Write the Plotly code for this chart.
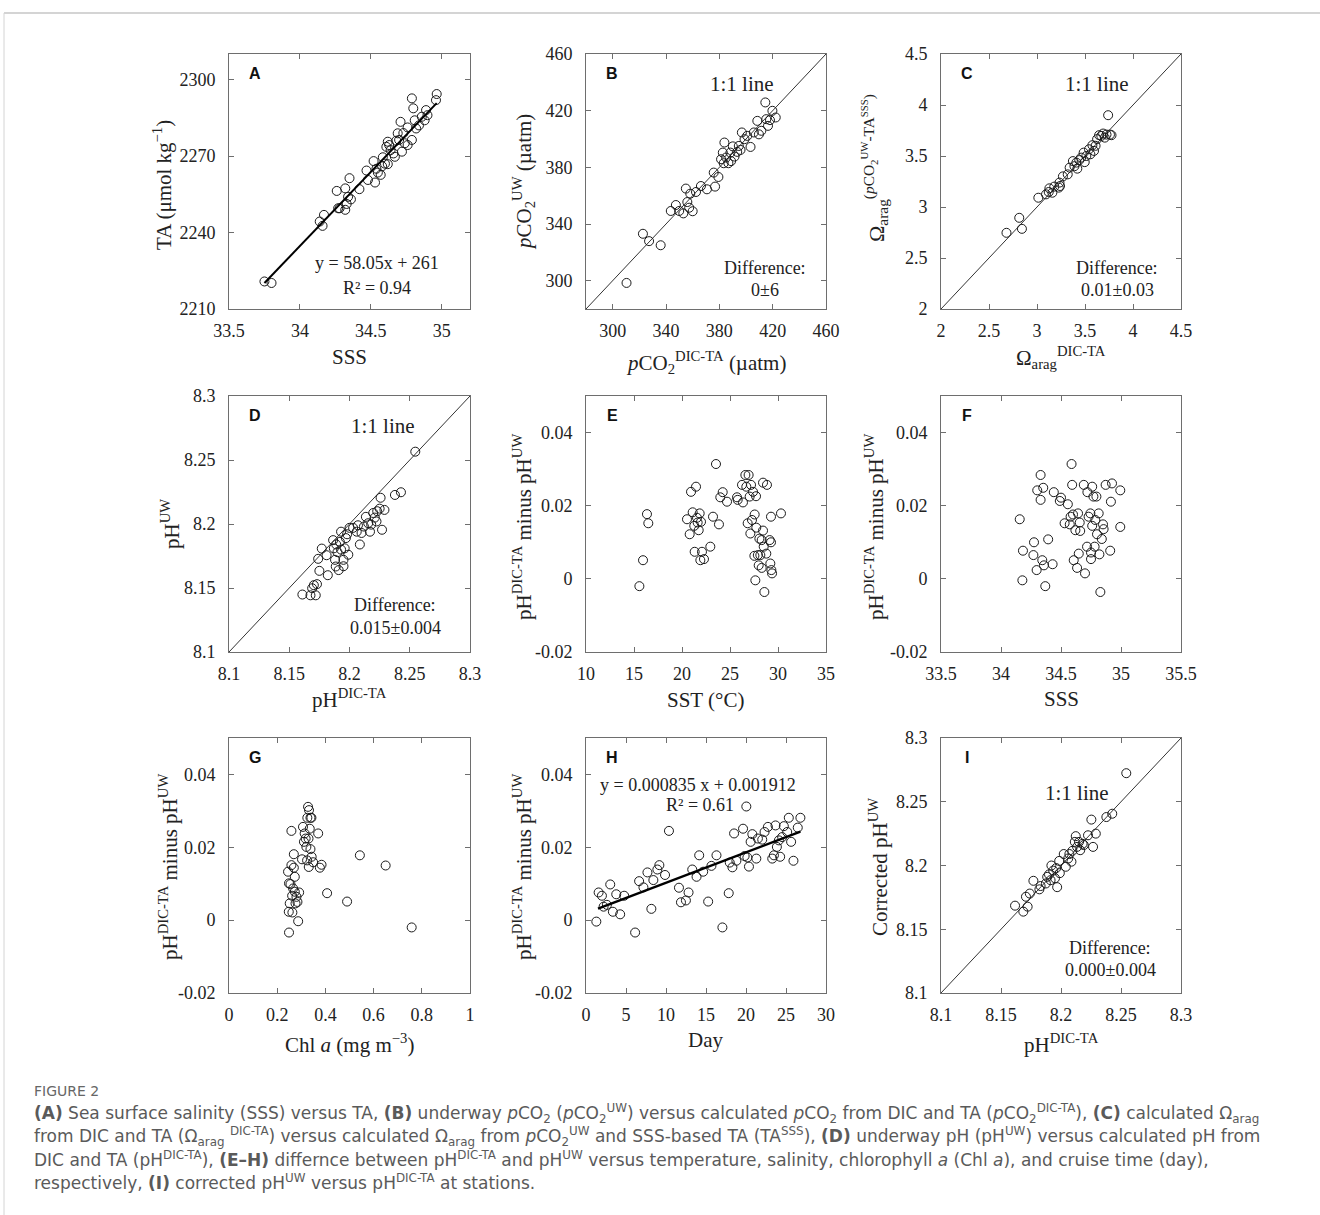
import plotly.graph_objects as go

W, H = 1320, 1215

# ---------------- data ----------------
# (A) SSS vs TA
a_sss = [33.75, 33.80, 34.14, 34.16, 34.17, 34.26, 34.27, 34.28, 34.32, 34.32, 34.33, 34.35, 34.34, 34.36,
         34.42, 34.47, 34.48, 34.52, 34.53, 34.54, 34.55, 34.57, 34.585, 34.58, 34.60, 34.61, 34.62, 34.62,
         34.63, 34.64, 34.66, 34.67, 34.68, 34.69, 34.70, 34.71, 34.72, 34.73, 34.74, 34.76, 34.76, 34.79,
         34.79, 34.80, 34.81, 34.82, 34.84, 34.86, 34.88, 34.89, 34.90, 34.965, 34.96]
a_ta = [2220.8, 2220.2, 2244.3, 2242.6, 2246.9, 2256.3, 2249.5, 2249.5, 2248.9, 2257.3, 2251.2, 2261.3, 2254.0, 2253.0,
        2257.0, 2264.3, 2260.6, 2268.0, 2259.6, 2265.0, 2263.5, 2262.6, 2269.5, 2266.0, 2267.0, 2273.6, 2266.8, 2275.6,
        2274.3, 2272.3, 2271.0, 2269.7, 2276.0, 2278.9, 2276.3, 2283.4, 2271.7, 2279.0, 2275.0, 2274.3, 2281.2, 2292.6,
        2276.3, 2288.7, 2284.0, 2280.8, 2282.0, 2285.4, 2284.0, 2288.0, 2286.0, 2294.3, 2291.9]
a_fit = [58.05, 261.0]

# (B) pCO2 DIC-TA vs pCO2 UW
b_calc = [310.4, 322.7, 327.3, 336.0, 343.6, 347.4, 349.9, 353.0, 354.9, 356.0, 357.4, 358.2, 360.0, 362.5,
          366.2, 370.7, 375.8, 376.8, 379.3, 381.3, 382.6, 383.3, 383.8, 385.1, 386.8, 388.3, 388.8, 390.1,
          391.4, 393.4, 394.6, 395.9, 396.9, 398.9, 400.9, 403.4, 405.9, 408.5, 409.7, 411.5, 414.5, 415.2,
          416.5, 418.0, 419.8, 422.3]
b_uw = [298.4, 333.1, 327.9, 325.0, 349.2, 353.4, 349.2, 347.5, 365.0, 355.5, 351.5, 361.4, 349.0, 362.6,
        366.8, 364.5, 376.3, 366.4, 373.2, 385.7, 390.4, 382.9, 397.5, 386.9, 382.9, 390.4, 384.4, 394.8,
        387.6, 390.9, 395.1, 392.3, 404.6, 399.9, 402.2, 394.4, 404.6, 412.8, 403.3, 405.8, 425.8, 414.0,
        409.3, 413.3, 419.9, 415.2]

# (C) Omega arag DIC-TA vs Omega arag (pCO2 UW - TA SSS)
c_calc = [2.682, 2.815, 2.843, 3.014, 3.094, 3.122, 3.129, 3.160, 3.180, 3.227, 3.234, 3.240, 3.270, 3.320,
          3.340, 3.374, 3.390, 3.410, 3.420, 3.440, 3.460, 3.486, 3.497, 3.514, 3.542, 3.556, 3.577, 3.594,
          3.610, 3.626, 3.647, 3.670, 3.689, 3.706, 3.724, 3.741, 3.760, 3.776]
c_uw = [2.747, 2.894, 2.786, 3.091, 3.124, 3.147, 3.183, 3.140, 3.200, 3.190, 3.239, 3.206, 3.300, 3.320,
        3.386, 3.450, 3.400, 3.435, 3.376, 3.460, 3.484, 3.533, 3.440, 3.500, 3.566, 3.517, 3.606, 3.550,
        3.600, 3.665, 3.704, 3.697, 3.720, 3.680, 3.710, 3.900, 3.710, 3.704]

# (D) pH DIC-TA vs pH UW
d_calc = [8.1609, 8.1676, 8.1690, 8.1704, 8.1720, 8.1730, 8.1740, 8.1750, 8.1770, 8.1810, 8.1820, 8.1864,
          8.1870, 8.1880, 8.1886, 8.1890, 8.1900, 8.1910, 8.1920, 8.1930, 8.1930, 8.1950, 8.1950, 8.1960,
          8.1970, 8.1980, 8.1990, 8.2000, 8.2030, 8.2060, 8.2070, 8.2086, 8.2100, 8.2120, 8.2136, 8.2155,
          8.2170, 8.2180, 8.2197, 8.2210, 8.2224, 8.2230, 8.2250, 8.2258, 8.2270, 8.2290, 8.2377, 8.2427,
          8.2546]
d_uw = [8.1449, 8.1443, 8.1498, 8.1522, 8.1443, 8.1530, 8.1728, 8.1634, 8.1808, 8.1756, 8.1600, 8.1874,
        8.1810, 8.1720, 8.1668, 8.1840, 8.1780, 8.1640, 8.1860, 8.1800, 8.1940, 8.1720, 8.1670, 8.1810,
        8.1890, 8.1920, 8.1760, 8.1970, 8.1970, 8.1940, 8.1990, 8.1840, 8.1930, 8.1980, 8.2056, 8.2006,
        8.1940, 8.1995, 8.2086, 8.2050, 8.2020, 8.2100, 8.2120, 8.2205, 8.1955, 8.2110, 8.2227, 8.2248,
        8.2565]

# (E) SST vs pH difference
e_sst = [15.56, 15.94, 16.35, 16.49, 20.52, 20.80, 20.94, 21.11, 21.28, 21.32, 21.46, 21.56, 21.63, 21.74,
         21.84, 21.91, 21.98, 22.08, 22.29, 22.95, 23.23, 23.54, 23.85, 23.99, 24.24, 24.69, 25.73, 25.80,
         26.25, 26.35, 26.60, 26.70, 26.84, 26.94, 27.05, 27.12, 27.19, 27.29, 27.40, 27.54, 27.57, 27.64,
         27.71, 27.74, 27.90, 27.99, 28.06, 28.16, 28.30, 28.30, 28.44, 28.44, 28.51, 28.58, 28.78, 28.85,
         29.13, 29.20, 29.27, 29.27, 29.31, 29.38, 30.31]
e_diff = [-0.0020, 0.0051, 0.0177, 0.0152, 0.0163, 0.0122, 0.0238, 0.0182, 0.0145, 0.0074, 0.0252, 0.0167,
          0.0154, 0.0133, 0.0179, 0.0051, 0.0156, 0.0074, 0.0054, 0.0088, 0.0170, 0.0314, 0.0149, 0.0223,
          0.0237, 0.0211, 0.0223, 0.0216, 0.0257, 0.0209, 0.0284, 0.0252, 0.0152, 0.0284, 0.0225, 0.0124,
          0.0257, 0.0161, 0.0238, 0.0063, 0.0176, -0.0004, 0.0226, 0.0140, 0.0065, 0.0037, 0.0110, 0.0065,
          0.0030, 0.0106, 0.0263, 0.0132, 0.0088, -0.0036, 0.0069, 0.0257, 0.0106, 0.0042, 0.0170, 0.0100,
          0.0024, 0.0015, 0.0179]

# (F) SSS vs pH difference
f_sss = [34.156, 34.178, 34.183, 34.275, 34.270, 34.297, 34.302, 34.330, 34.330, 34.344, 34.352, 34.358,
         34.369, 34.393, 34.430, 34.440, 34.490, 34.500, 34.530, 34.557, 34.573, 34.580, 34.588, 34.593,
         34.600, 34.606, 34.620, 34.634, 34.642, 34.648, 34.656, 34.660, 34.690, 34.700, 34.717, 34.720,
         34.730, 34.745, 34.750, 34.750, 34.760, 34.760, 34.770, 34.780, 34.786, 34.795, 34.800, 34.814,
         34.820, 34.828, 34.840, 34.850, 34.855, 34.872, 34.910, 34.916, 34.925, 34.994, 34.994]
f_diff = [0.0163, -0.0004, 0.0077, 0.0100, 0.0065, 0.0024, 0.0242, 0.0216, 0.0284, 0.0051, 0.0249, 0.0037,
          -0.0020, 0.0108, 0.0040, 0.0237, 0.0213, 0.0222, 0.0152, 0.0204, 0.0149, 0.0170, 0.0314, 0.0257,
          0.0176, 0.0051, 0.0133, 0.0030, 0.0179, 0.0069, 0.0154, 0.0131, 0.0257, 0.0015, 0.0088, 0.0237,
          0.0170, 0.0179, 0.0054, 0.0072, 0.0252, 0.0145, 0.0225, 0.0088, 0.0161, 0.0225, 0.0122, 0.0179,
          0.0067, -0.0036, 0.0109, 0.0149, 0.0136, 0.0257, 0.0077, 0.0211, 0.0261, 0.0242, 0.0142]

# (G) Chl a vs pH difference
g_chl = [0.249, 0.248, 0.252, 0.255, 0.245, 0.259, 0.259, 0.262, 0.263, 0.266, 0.269, 0.269, 0.273, 0.273,
         0.276, 0.280, 0.284, 0.287, 0.291, 0.249, 0.303, 0.307, 0.311, 0.314, 0.318, 0.321, 0.324, 0.325,
         0.328, 0.330, 0.331, 0.332, 0.335, 0.338, 0.338, 0.342, 0.343, 0.349, 0.370, 0.377, 0.384, 0.407,
         0.490, 0.543, 0.650, 0.758]
g_diff = [-0.0034, 0.0023, 0.0046, 0.0099, 0.0133, 0.0151, 0.0245, 0.0067, 0.0021, 0.0087, 0.0144, 0.0181,
          0.0119, 0.0078, 0.0046, 0.0064, 0.0050, -0.0003, 0.0076, 0.0101, 0.0167, 0.0256, 0.0215, 0.0238,
          0.0224, 0.0201, 0.0164, 0.0281, 0.0311, 0.0224, 0.0146, 0.0302, 0.0251, 0.0195, 0.0281, 0.0281,
          0.0174, 0.0159, 0.0238, 0.0144, 0.0152, 0.0074, 0.0051, 0.0178, 0.0150, -0.0020]

# (H) Day vs pH difference
h_day = [1.29, 1.58, 1.99, 2.20, 2.61, 3.03, 3.36, 3.78, 4.27, 4.77, 6.14, 6.64, 7.18, 7.68, 8.17, 8.42,
         8.92, 9.17, 9.88, 10.37, 11.62, 11.87, 12.49, 12.82, 13.28, 13.82, 14.15, 14.65, 15.27, 15.68,
         16.31, 17.05, 17.84, 17.97, 18.30, 18.51, 18.80, 19.63, 19.83, 20.04, 20.17, 20.37, 20.58, 20.79,
         21.29, 21.49, 22.03, 22.32, 22.74, 23.28, 23.49, 23.69, 23.86, 24.11, 24.27, 24.52, 24.73, 25.15,
         25.35, 25.64, 25.93, 26.47, 26.80]
h_diff = [-0.0004, 0.0076, 0.0067, 0.0037, 0.0042, 0.0098, 0.0023, 0.0071, 0.0016, 0.0067, -0.0034, 0.0107,
          0.0090, 0.0131, 0.0031, 0.0110, 0.0139, 0.0151, 0.0124, 0.0245, 0.0089, 0.0049, 0.0054, 0.0076,
          0.0139, 0.0119, 0.0178, 0.0133, 0.0051, 0.0149, 0.0178, -0.0020, 0.0074, 0.0158, 0.0145, 0.0238,
          0.0163, 0.0251, 0.0176, 0.0312, 0.0172, 0.0147, 0.0215, 0.0236, 0.0169, 0.0224, 0.0221, 0.0242,
          0.0256, 0.0169, 0.0178, 0.0260, 0.0201, 0.0219, 0.0174, 0.0228, 0.0258, 0.0242, 0.0281, 0.0215,
          0.0163, 0.0254, 0.0281]
h_fit = [0.000835, 0.001912]

# (I) pH DIC-TA vs corrected pH UW
i_calc = [8.1617, 8.1686, 8.1708, 8.1722, 8.1740, 8.1770, 8.1820, 8.1830, 8.1874, 8.1885, 8.1900, 8.1913,
          8.1920, 8.1935, 8.1950, 8.1960, 8.1968, 8.1985, 8.1990, 8.2023, 8.2040, 8.2060, 8.2070, 8.2087,
          8.2095, 8.2115, 8.2123, 8.2134, 8.2150, 8.2160, 8.2180, 8.2190, 8.2225, 8.2253, 8.2267, 8.2290,
          8.2378, 8.2427, 8.2544]
i_corr = [8.1685, 8.1638, 8.1755, 8.1677, 8.1780, 8.1880, 8.1813, 8.1839, 8.1859, 8.1911, 8.1930, 8.1885,
          8.2000, 8.1960, 8.1900, 8.1980, 8.1830, 8.2036, 8.1940, 8.2090, 8.1990, 8.2055, 8.2090, 8.2030,
          8.2115, 8.2185, 8.2230, 8.2146, 8.2185, 8.2120, 8.2170, 8.2160, 8.2237, 8.2360, 8.2146, 8.2250,
          8.2380, 8.2406, 8.2724]

# tick labels
t_a_x = [33.5, 34, 34.5, 35]
t_a_y = [2210, 2240, 2270, 2300]
t_b = [300, 340, 380, 420, 460]
t_c = [2, 2.5, 3, 3.5, 4, 4.5]
t_ph = [8.1, 8.15, 8.2, 8.25, 8.3]
t_diff = [-0.02, 0, 0.02, 0.04]
t_e_x = [10, 15, 20, 25, 30, 35]
t_f_x = [33.5, 34, 34.5, 35, 35.5]
t_g_x = [0, 0.2, 0.4, 0.6, 0.8, 1]
t_h_x = [0, 5, 10, 15, 20, 25, 30]

# ---------------- layout helpers ----------------
SERIF = "Liberation Serif"
cols = [(229, 470), (586, 826), (941, 1181)]
rows = [(54, 309), (396, 652), (738, 993)]


def fmt(v):
    return "%g" % v


fig = go.Figure()

panels = [
    dict(x=a_sss, y=a_ta, xr=[33.5, 35.2], yr=[2210, 2310], xt=t_a_x, yt=t_a_y, one=False),
    dict(x=b_calc, y=b_uw, xr=[280, 460], yr=[280, 460], xt=t_b, yt=t_b, one=True),
    dict(x=c_calc, y=c_uw, xr=[2, 4.5], yr=[2, 4.5], xt=t_c, yt=t_c, one=True),
    dict(x=d_calc, y=d_uw, xr=[8.1, 8.3], yr=[8.1, 8.3], xt=t_ph, yt=t_ph, one=True),
    dict(x=e_sst, y=e_diff, xr=[10, 35], yr=[-0.02, 0.05], xt=t_e_x, yt=t_diff, one=False),
    dict(x=f_sss, y=f_diff, xr=[33.5, 35.5], yr=[-0.02, 0.05], xt=t_f_x, yt=t_diff, one=False),
    dict(x=g_chl, y=g_diff, xr=[0, 1], yr=[-0.02, 0.05], xt=t_g_x, yt=t_diff, one=False),
    dict(x=h_day, y=h_diff, xr=[0, 30], yr=[-0.02, 0.05], xt=t_h_x, yt=t_diff, one=False),
    dict(x=i_calc, y=i_corr, xr=[8.1, 8.3], yr=[8.1, 8.3], xt=t_ph, yt=t_ph, one=True),
]

axis_common = dict(
    showline=True, linecolor="#6e6e6e", linewidth=1, mirror="allticks",
    ticks="inside", ticklen=5, tickcolor="#6e6e6e", tickwidth=1,
    showgrid=False, zeroline=False, automargin=False,
    tickfont=dict(family=SERIF, size=18, color="#222"),
)

for i, p in enumerate(panels):
    n = i + 1
    xa = "x" if n == 1 else "x%d" % n
    ya = "y" if n == 1 else "y%d" % n
    c0, c1 = cols[i % 3]
    r0, r1 = rows[i // 3]
    xkey = "xaxis" if n == 1 else "xaxis%d" % n
    ykey = "yaxis" if n == 1 else "yaxis%d" % n
    fig.update_layout({
        xkey: dict(domain=[c0 / W, c1 / W], anchor=ya, range=p["xr"], ticklabelstandoff=5,
                   tickvals=p["xt"], ticktext=[fmt(v) for v in p["xt"]], **axis_common),
        ykey: dict(domain=[1 - r1 / H, 1 - r0 / H], anchor=xa, range=p["yr"], ticklabelstandoff=9,
                   tickvals=p["yt"], ticktext=[fmt(v) for v in p["yt"]], **axis_common),
    })
    if p["one"]:
        fig.add_trace(go.Scatter(x=p["xr"], y=p["yr"], mode="lines", xaxis=xa, yaxis=ya,
                                 line=dict(color="#333", width=1), showlegend=False, hoverinfo="skip"))
    fig.add_trace(go.Scatter(x=p["x"], y=p["y"], mode="markers", xaxis=xa, yaxis=ya,
                             marker=dict(symbol="circle-open", size=9, color="#1a1a1a",
                                         line=dict(width=1, color="#1a1a1a")),
                             showlegend=False))
    if n == 1:
        xs = [min(a_sss), max(a_sss)]
        fig.add_trace(go.Scatter(x=xs, y=[a_fit[0] * v + a_fit[1] for v in xs], mode="lines",
                                 xaxis=xa, yaxis=ya, line=dict(color="black", width=2), showlegend=False))
    if n == 8:
        xs = [1.5, max(h_day)]
        fig.add_trace(go.Scatter(x=xs, y=[h_fit[0] * v + h_fit[1] for v in xs], mode="lines",
                                 xaxis=xa, yaxis=ya, line=dict(color="black", width=2.5), showlegend=False))

annotations = []


def ann(text, px, py, size=20, angle=0, family=SERIF, color="#222", xanchor="center", yanchor="middle"):
    annotations.append(dict(text=text, x=px / W, y=1 - py / H, xref="paper", yref="paper",
                            showarrow=False, textangle=angle, xanchor=xanchor, yanchor=yanchor,
                            font=dict(family=family, size=size, color=color)))


# panel letters
letters = ["A", "B", "C", "D", "E", "F", "G", "H", "I"]
for i, L in enumerate(letters):
    c0, _ = cols[i % 3]
    r0, _ = rows[i // 3]
    ann("<b>%s</b>" % L, c0 + 26, r0 + 19, size=16, family="Liberation Sans", color="#111")

# axis titles
ann("SSS", 349, 357, size=21)
ann("TA (μmol kg<sup>−1</sup>)", 163, 185, size=21, angle=-90)
ann("<i>p</i>CO<sub>2</sub><sup>DIC-TA</sup> (µatm)", 706, 362, size=21)
ann("<i>p</i>CO<sub>2</sub><sup>UW</sup> (µatm)", 523, 182, size=21, angle=-90)
ann("Ω<sub>arag</sub><sup>DIC-TA</sup>", 1061, 357, size=21)
ann("Ω<sub>arag</sub><sup>(<i>p</i>CO<sub>2</sub><sup>UW</sup>-TA<sup>SSS</sup>)</sup>",
    874, 168, size=22, angle=-90)
ann("pH<sup>DIC-TA</sup>", 349, 698, size=21)
ann("pH<sup>UW</sup>", 170, 524, size=21, angle=-90)
ann("SST (°C)", 706, 700, size=21)
ann("pH<sup>DIC-TA</sup> minus pH<sup>UW</sup>", 522, 527, size=21, angle=-90)
ann("SSS", 1061, 699, size=21)
ann("pH<sup>DIC-TA</sup> minus pH<sup>UW</sup>", 874, 527, size=21, angle=-90)
ann("Chl <i>a</i> (mg m<sup>−3</sup>)", 349, 1043, size=21)
ann("pH<sup>DIC-TA</sup> minus pH<sup>UW</sup>", 168, 867, size=21, angle=-90)
ann("Day", 706, 1040, size=21)
ann("pH<sup>DIC-TA</sup> minus pH<sup>UW</sup>", 522, 867, size=21, angle=-90)
ann("pH<sup>DIC-TA</sup>", 1061, 1043, size=21)
ann("Corrected pH<sup>UW</sup>", 878, 867, size=21, angle=-90)

# in-panel texts
ann("y = 58.05x + 261", 377, 263, size=18)
ann("R² = 0.94", 377, 288, size=18)
ann("1:1 line", 742, 84, size=21)
ann("Difference:", 765, 268, size=18)
ann("0±6", 765, 290, size=18)
ann("1:1 line", 1097, 84, size=21)
ann("Difference:", 1117, 268, size=18)
ann("0.01±0.03", 1117, 290, size=18)
ann("1:1 line", 383, 426, size=21)
ann("Difference:", 395, 605, size=18)
ann("0.015±0.004", 395, 628, size=18)
ann("y = 0.000835 x + 0.001912", 698, 785, size=18)
ann("R² = 0.61", 700, 805, size=18)
ann("1:1 line", 1077, 793, size=21)
ann("Difference:", 1110, 948, size=18)
ann("0.000±0.004", 1110, 970, size=18)

# caption
CAP = "DejaVu Sans"
ann("FIGURE 2", 32, 1091, size=14, family=CAP, color="#666", xanchor="left")
cap_lines = [
    "<b>(A)</b> Sea surface salinity (SSS) versus TA, <b>(B)</b> underway <i>p</i>CO<sub>2</sub> (<i>p</i>CO<sub>2</sub><sup>UW</sup>) "
    "versus calculated <i>p</i>CO<sub>2</sub> from DIC and TA (<i>p</i>CO<sub>2</sub><sup>DIC-TA</sup>), <b>(C)</b> calculated Ω<sub>arag</sub>",
    "from DIC and TA (Ω<sub>arag</sub> <sup>DIC-TA</sup>) versus calculated Ω<sub>arag</sub> from <i>p</i>CO<sub>2</sub><sup>UW</sup> "
    "and SSS-based TA (TA<sup>SSS</sup>), <b>(D)</b> underway pH (pH<sup>UW</sup>) versus calculated pH from",
    "DIC and TA (pH<sup>DIC-TA</sup>), <b>(E–H)</b> differnce between pH<sup>DIC-TA</sup> and pH<sup>UW</sup> versus "
    "temperature, salinity, chlorophyll <i>a</i> (Chl <i>a</i>), and cruise time (day),",
    "respectively, <b>(I)</b> corrected pH<sup>UW</sup> versus pH<sup>DIC-TA</sup> at stations.",
]
for k, line in enumerate(cap_lines):
    ann(line, 32, 1113 + k * 23, size=17, family=CAP, color="#5a5a5a", xanchor="left")

# outer frame lines
shapes = [
    dict(type="line", xref="paper", yref="paper", x0=4 / W, x1=1.0, y0=1 - 13 / H, y1=1 - 13 / H,
         line=dict(color="#d4d4d4", width=2)),
    dict(type="line", xref="paper", yref="paper", x0=4 / W, x1=4 / W, y0=0, y1=1 - 13 / H,
         line=dict(color="#d4d4d4", width=1)),
]

fig.update_layout(
    width=W, height=H, margin=dict(l=0, r=0, t=0, b=0, pad=0, autoexpand=False),
    paper_bgcolor="white", plot_bgcolor="white",
    annotations=annotations, shapes=shapes, showlegend=False,
)

fig.write_html("out.html", config={"displayModeBar": False},
               post_script="document.body.style.margin='0px';document.body.style.overflow='hidden';")
